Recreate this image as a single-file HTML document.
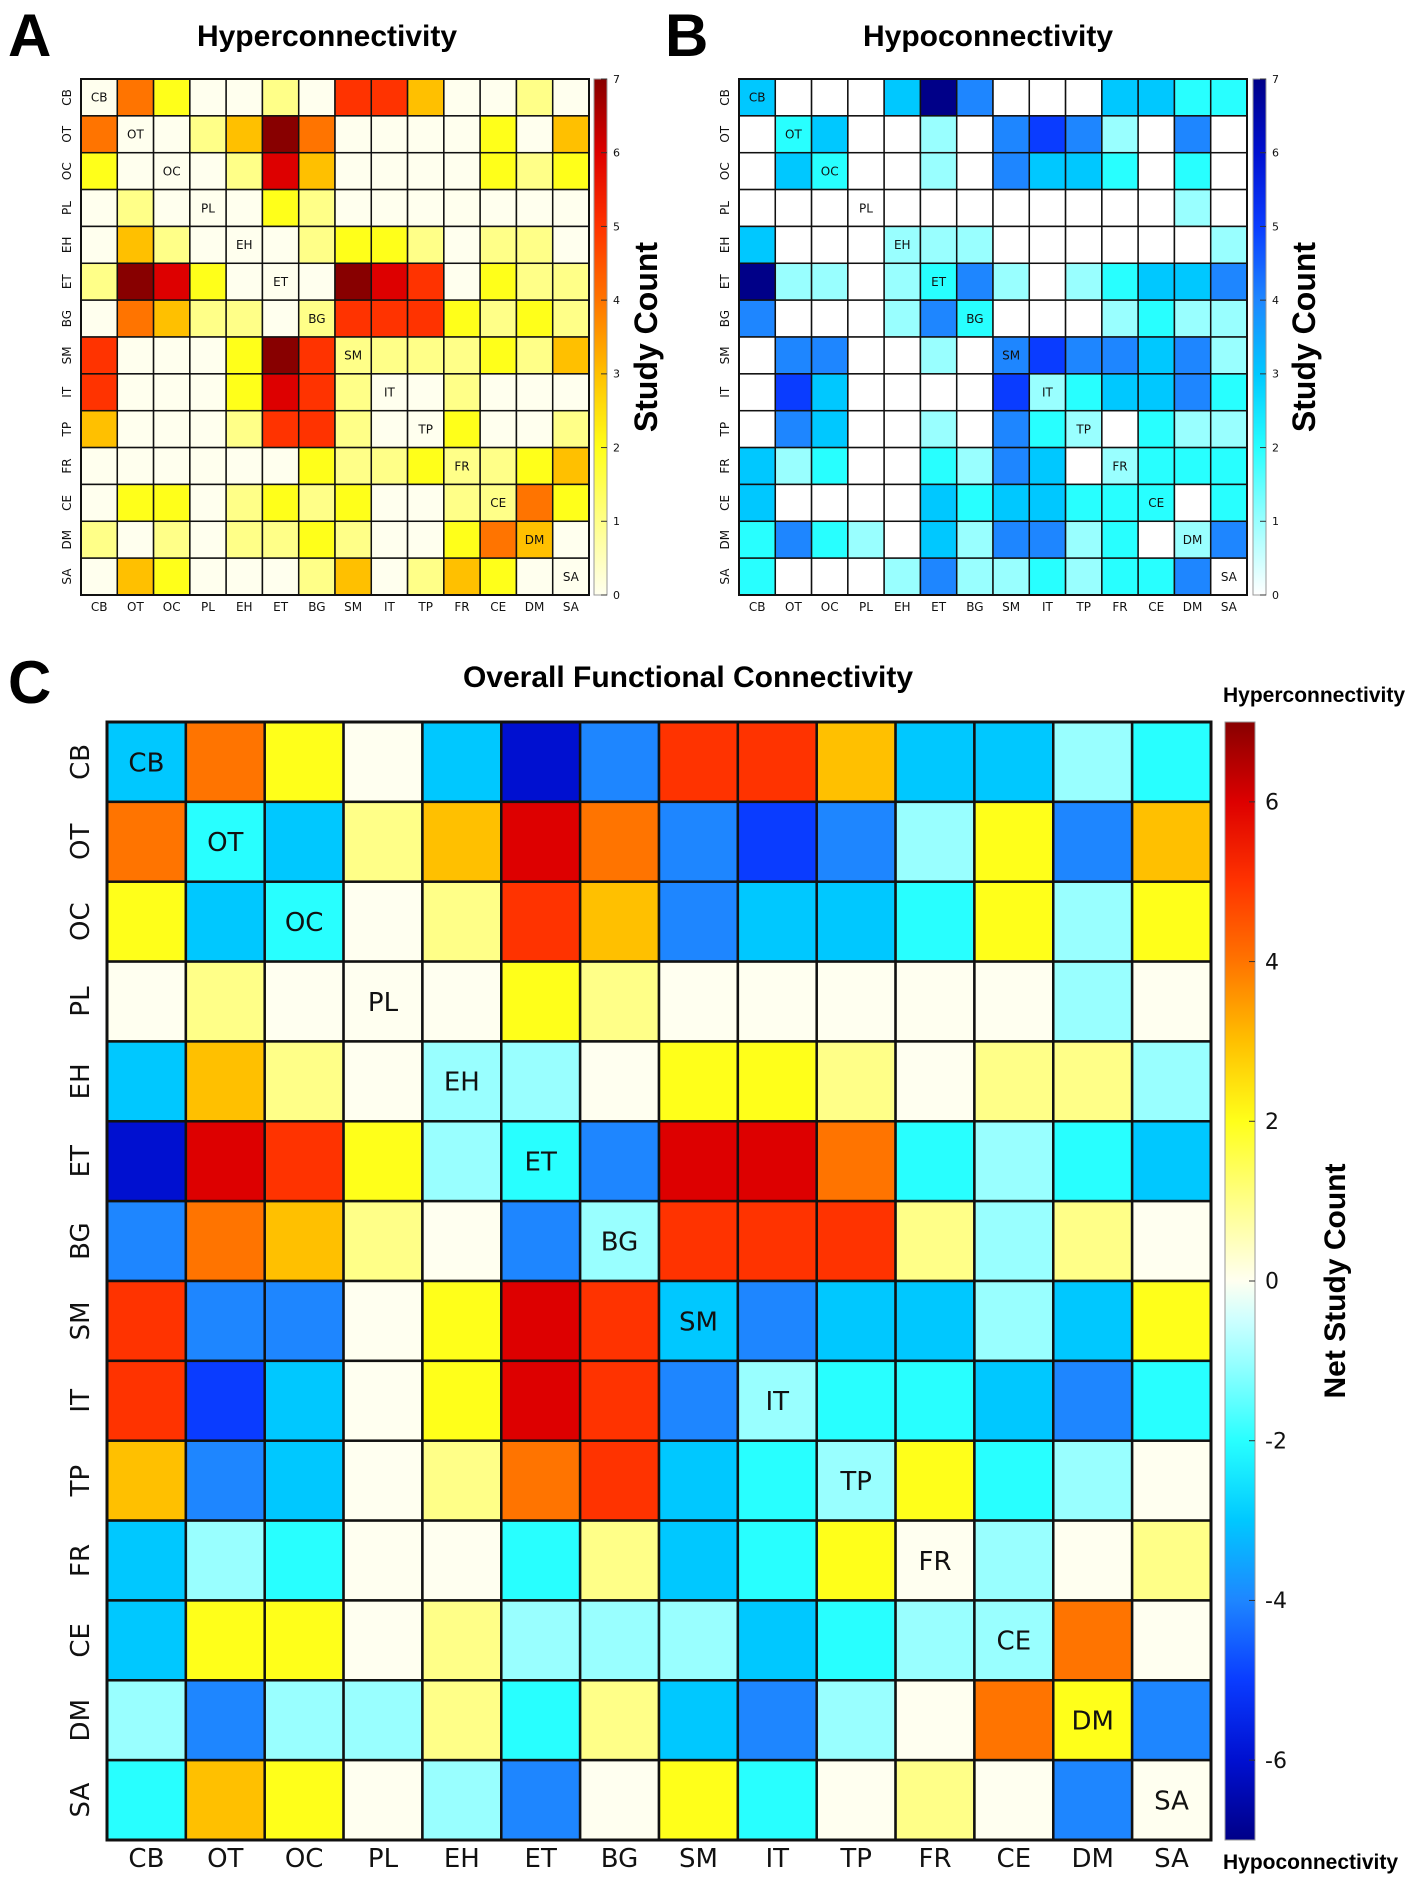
<!DOCTYPE html>
<html><head><meta charset="utf-8"><style>
html,body{margin:0;padding:0;background:#fff;}
svg{display:block;font-family:"DejaVu Sans","Liberation Sans",sans-serif;}
.b{font-family:"Liberation Sans",sans-serif;font-weight:bold;}
</style></head><body>
<svg id="fig" width="1418" height="1882" viewBox="0 0 1418 1882" xmlns="http://www.w3.org/2000/svg">
<defs id="defs"></defs>
<text class="b" x="8" y="56" font-size="60">A</text>
<text class="b" x="665" y="56" font-size="60">B</text>
<text class="b" x="8" y="703" font-size="60">C</text>
<text class="b" x="327" y="46" font-size="30" text-anchor="middle">Hyperconnectivity</text>
<text class="b" x="988" y="46" font-size="30" text-anchor="middle">Hypoconnectivity</text>
<text class="b" x="688" y="687" font-size="30" text-anchor="middle">Overall Functional Connectivity</text>
<g id="pa"></g><g id="pb"></g><g id="pc"></g>
</svg>
<script>
const regions = ["CB","OT","OC","PL","EH","ET","BG","SM","IT","TP","FR","CE","DM","SA"];
const hyperCounts = [
[0,4,2,0,0,1,0,5,5,3,0,0,1,0],
[4,0,0,1,3,7,4,0,0,0,0,2,0,3],
[2,0,0,0,1,6,3,0,0,0,0,2,1,2],
[0,1,0,0,0,2,1,0,0,0,0,0,0,0],
[0,3,1,0,0,0,1,2,2,1,0,1,1,0],
[1,7,6,2,0,0,0,7,6,5,0,2,1,1],
[0,4,3,1,1,0,1,5,5,5,2,1,2,1],
[5,0,0,0,2,7,5,1,1,1,1,2,1,3],
[5,0,0,0,2,6,5,1,0,0,1,0,0,0],
[3,0,0,0,1,5,5,1,0,0,2,0,0,1],
[0,0,0,0,0,0,2,1,1,2,1,1,2,3],
[0,2,2,0,1,2,1,2,0,0,1,1,4,2],
[1,0,1,0,1,1,2,1,0,0,2,4,3,0],
[0,3,2,0,0,0,1,3,0,1,3,2,0,0]];
const hypoCounts = [
[3,0,0,0,3,7,4,0,0,0,3,3,2,2],
[0,2,3,0,0,1,0,4,5,4,1,0,4,0],
[0,3,2,0,0,1,0,4,3,3,2,0,2,0],
[0,0,0,0,0,0,0,0,0,0,0,0,1,0],
[3,0,0,0,1,1,1,0,0,0,0,0,0,1],
[7,1,1,0,1,2,4,1,0,1,2,3,3,4],
[4,0,0,0,1,4,2,0,0,0,1,2,1,1],
[0,4,4,0,0,1,0,4,5,4,4,3,4,1],
[0,5,3,0,0,0,0,5,1,2,3,3,4,2],
[0,4,3,0,0,1,0,4,2,1,0,2,1,1],
[3,1,2,0,0,2,1,4,3,0,1,2,2,2],
[3,0,0,0,0,3,2,3,3,2,2,2,0,2],
[2,4,2,1,0,3,1,4,4,1,2,0,1,4],
[2,0,0,0,1,4,1,1,2,1,2,2,4,0]];
const countTicks = [0,1,2,3,4,5,6,7];
const netTicks = [6,4,2,0,-2,-4,-6];

const hotStops = [[0,'#FFFFEE'],[1,'#FFFF88'],[2,'#FFFF1A'],[3,'#FFC000'],[4,'#FF7400'],[5,'#FF3300'],[6,'#DD0000'],[7,'#880000']];
const coldStops = [[0,'#FFFFFF'],[1,'#99FFFF'],[2,'#28FFFF'],[3,'#00C8FF'],[4,'#1E86FF'],[5,'#0A3CFF'],[6,'#0010D0'],[7,'#000088']];
function hex(c){return [parseInt(c.slice(1,3),16),parseInt(c.slice(3,5),16),parseInt(c.slice(5,7),16)];}
function interp(stops,v){
  v=Math.max(0,Math.min(7,v));
  for(let i=0;i<stops.length-1;i++){
    if(v<=stops[i+1][0]){const t=(v-stops[i][0])/(stops[i+1][0]-stops[i][0]);
      const a=hex(stops[i][1]),b=hex(stops[i+1][1]);
      return 'rgb('+a.map((x,k)=>Math.round(x+(b[k]-x)*t)).join(',')+')';}
  }
  return stops[stops.length-1][1];
}
function netColor(v){ if(v>0) return interp(hotStops,v); if(v<0) return interp(coldStops,-v); return '#FFFFF0'; }
const NS='http://www.w3.org/2000/svg';
function mk(tag,attrs,parent){const e=document.createElementNS(NS,tag);for(const k in attrs)e.setAttribute(k,attrs[k]);parent.appendChild(e);return e;}
const defs=document.getElementById('defs');
function grad(id,fn,lo,hi){
  const g=mk('linearGradient',{id:id,x1:0,y1:1,x2:0,y2:0},defs);
  for(let i=0;i<=28;i++){const v=lo+(hi-lo)*i/28;mk('stop',{offset:(i/28),'stop-color':fn(v)},g);}
}
grad('gHot',v=>interp(hotStops,v),0,7);
grad('gCold',v=>interp(coldStops,v),0,7);
grad('gNet',netColor,-7,7);

function panel(gid,o){
  const g=document.getElementById(gid);
  const n=regions.length, cw=(o.x1-o.x0)/n, ch=(o.y1-o.y0)/n;
  const xs=i=>o.x0+i*cw, ys=i=>o.y0+i*ch;
  for(let r=0;r<n;r++)for(let c=0;c<n;c++){
    const rc=mk('rect',{x:xs(c),y:ys(r),width:cw,height:ch,fill:o.color(o.val(r,c)),stroke:'#111','stroke-width':o.sw},g);
    
    
  }
  mk('rect',{x:o.x0,y:o.y0,width:o.x1-o.x0,height:o.y1-o.y0,fill:'none',stroke:'#111','stroke-width':o.sw+0.5},g);
  for(let i=0;i<n;i++){
    const d=mk('text',{x:xs(i)+cw/2,y:ys(i)+ch/2+o.fs*0.36,'font-size':o.fs,'text-anchor':'middle',fill:'#111'},g);
    d.textContent=regions[i];
    
    
    const cx=xs(i)+cw/2, ylab=o.y1+o.lgap;
    const t=mk('text',{x:cx,y:ylab,'font-size':o.lfs,'text-anchor':'middle',fill:'#111'},g);
    t.textContent=regions[i];
    
    
    const cy=ys(i)+ch/2, xl=o.x0-o.lgap2;
    const t2=mk('text',{x:xl,y:cy,'font-size':o.lfs,'text-anchor':'middle',transform:'rotate(-90 '+xl+' '+cy+')',fill:'#111'},g);
    t2.textContent=regions[i];
    
    
  }
  const cb=mk('rect',{x:o.cbx,y:o.y0,width:o.cbw,height:o.y1-o.y0,fill:'url(#'+o.grad+')',stroke:'#999','stroke-width':1},g);
  
  
  const cbs=v=>o.y1-(v-o.lo)/(o.hi-o.lo)*(o.y1-o.y0);
  o.ticks.forEach(v=>{
    mk('line',{x1:o.cbx+o.cbw-6,x2:o.cbx+o.cbw,y1:cbs(v),y2:cbs(v),stroke:'#333','stroke-width':1},g);
    const t=mk('text',{x:o.cbx+o.cbw+o.tgap,y:cbs(v)+o.tfs*0.35,'font-size':o.tfs,fill:'#111'},g);
    t.textContent=v;
    
    
  });
  const ty=(o.y0+o.y1)/2;
  const tt=mk('text',{x:o.titx,y:ty,'font-size':o.titfs,'text-anchor':'middle',class:'b',transform:'rotate(-90 '+o.titx+' '+ty+')'},g);
  tt.textContent=o.title;
  
  
}
panel('pa',{x0:81,x1:589,y0:79,y1:595,val:(r,c)=>hyperCounts[r][c],color:v=>interp(hotStops,v),sw:1.5,fs:12,lfs:12,lgap:16,lgap2:10,
  cbx:594,cbw:13,grad:'gHot',lo:0,hi:7,ticks:countTicks,tgap:6,tfs:11,titx:657,titfs:32,title:'Study Count'});
panel('pb',{x0:739,x1:1247,y0:79,y1:595,val:(r,c)=>hypoCounts[r][c],color:v=>interp(coldStops,v),sw:1.5,fs:12,lfs:12,lgap:16,lgap2:10,
  cbx:1253,cbw:13,grad:'gCold',lo:0,hi:7,ticks:countTicks,tgap:6,tfs:11,titx:1315,titfs:32,title:'Study Count'});
panel('pc',{x0:107,x1:1211,y0:722,y1:1840,val:(r,c)=>hyperCounts[r][c]-hypoCounts[r][c],color:netColor,sw:2.5,fs:26,lfs:26,lgap:27,lgap2:18,
  cbx:1225,cbw:30,grad:'gNet',lo:-7,hi:7,ticks:netTicks,tgap:10,tfs:22,titx:1345,titfs:30,title:'Net Study Count'});
const svg=document.getElementById('fig');
const h1=mk('text',{x:1223,y:702,'font-size':21,class:'b'},svg);
h1.textContent='Hyperconnectivity';


const h2=mk('text',{x:1223,y:1869,'font-size':21,class:'b'},svg);
h2.textContent='Hypoconnectivity';


</script>
</body></html>
